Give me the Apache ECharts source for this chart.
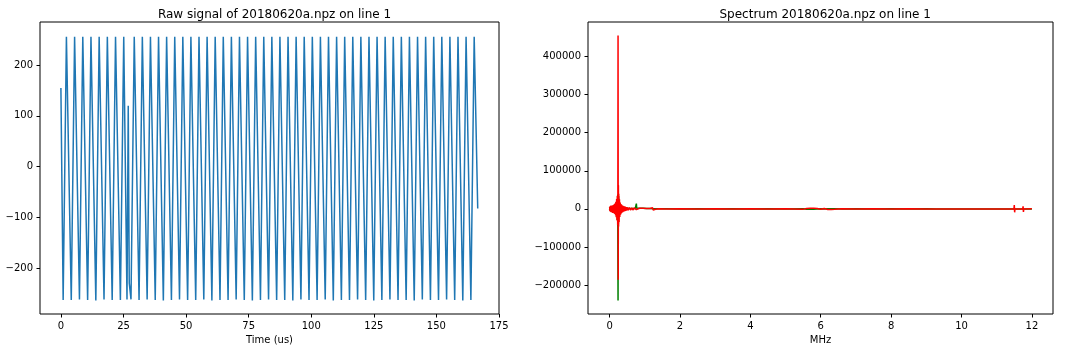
<!DOCTYPE html>
<html>
<head>
<meta charset="utf-8">
<script src="https://cdn.jsdelivr.net/npm/echarts@6/dist/echarts.min.js"></script>
<style>
html,body{margin:0;padding:0;background:#fff;}
#c{width:1072px;height:352px;}
</style>
</head>
<body>
<div id="c"></div>
<script>
// ---------------- data ----------------
const rawTime = [0, 0.9, 2.2, 2.8, 4.14, 5.47, 6.07, 7.41, 8.74, 9.34, 10.68, 12.01, 12.61, 13.95, 15.28, 15.88, 17.22,
  18.55, 19.15, 20.49, 21.82, 22.42, 23.76, 25.1, 25.7, 26.4, 26.9, 27.3, 28.0, 29.3, 29.9, 31.22, 32.53, 33.13, 34.45,
  35.77, 36.37, 37.68, 39.0, 39.6, 40.92, 42.23, 42.83, 44.15, 45.47, 46.07, 47.38, 48.7, 49.3, 50.62, 51.93, 52.53,
  53.85, 55.16, 55.76, 57.08, 58.4, 59.0, 60.31, 61.63, 62.23, 63.55, 64.86, 65.46, 66.78, 68.1, 68.7, 70.01, 71.33,
  71.93, 73.25, 74.56, 75.16, 76.48, 77.8, 78.4, 79.71, 81.03, 81.63, 82.95, 84.26, 84.86, 86.18, 87.49, 88.09, 89.41,
  90.73, 91.33, 92.64, 93.96, 94.56, 95.88, 97.19, 97.79, 99.11, 100.43, 101.03, 102.34, 103.66, 104.26, 105.58,
  106.89, 107.49, 108.81, 110.13, 110.73, 112.04, 113.36, 113.96, 115.28, 116.59, 117.19, 118.51, 119.82, 120.42,
  121.74, 123.06, 123.66, 124.97, 126.29, 126.89, 128.21, 129.52, 130.12, 131.44, 132.76, 133.36, 134.67, 135.99,
  136.59, 137.91, 139.22, 139.82, 141.14, 142.46, 143.06, 144.37, 145.69, 146.29, 147.61, 148.92, 149.52, 150.84,
  152.15, 152.75, 154.07, 155.39, 155.99, 157.30, 158.62, 159.22, 160.54, 161.85, 162.45, 163.77, 165.09, 165.69, 166.5];
const rawValue = [155, -263,
  256, 256, -263, 256, 256, -262, 256, 256, -263, 256, 256, -264, 256, 256, -262, 256, 256, -263, 256, 256, -263, 256, 256,
  -262, 120, -230, -262,
  256, 256, -263, 256, 256, -262, 256, 256, -263, 256, 256, -264, 256, 256, -263, 256, 256, -262, 256, 256, -263,
  256, 256, -263, 256, 256, -262, 256, 256, -264, 256, 256, -263, 256, 256, -263, 256, 256, -262, 256, 256, -263,
  256, 256, -264, 256, 256, -263, 256, 256, -262, 256, 256, -263, 256, 256, -263, 256, 256, -264, 256, 256, -262,
  256, 256, -263, 256, 256, -263, 256, 256, -262, 256, 256, -264, 256, 256, -263, 256, 256, -263, 256, 256, -262,
  256, 256, -263, 256, 256, -264, 256, 256, -263, 256, 256, -262, 256, 256, -263, 256, 256, -263, 256, 256, -264,
  256, 256, -262, 256, 256, -263, 256, 256, -263, 256, 256, -262, 256, 256, -263, 256, 256, -264, 256, 256, -263,
  256, 256, -83];

const specFreq = [0, 0.01, 0.02, 0.03, 0.04, 0.05, 0.06, 0.07, 0.08, 0.09, 0.10, 0.11, 0.12, 0.13, 0.14, 0.15, 0.16, 0.17,
  0.18, 0.19, 0.20, 0.21, 0.22, 0.23, 0.235, 0.24, 0.245, 0.25, 0.255,
  0.26, 0.27, 0.28, 0.29, 0.30, 0.31, 0.32, 0.33, 0.34, 0.35, 0.36, 0.37, 0.38, 0.39, 0.40, 0.41, 0.42, 0.43, 0.44, 0.45,
  0.46, 0.47, 0.48, 0.49, 0.50,
  0.53, 0.56, 0.60, 0.63, 0.66, 0.70, 0.73, 0.75, 0.76, 0.77, 0.80, 0.85, 0.90, 0.95, 1.00, 1.05, 1.10, 1.15, 1.20, 1.22,
  1.24, 1.26, 1.30, 1.40,
  1.6, 2.0, 2.5, 3.0, 3.5, 4.0, 4.5, 5.0, 5.5, 5.6, 5.65, 5.7, 5.75, 5.8, 5.85, 5.9, 6.0, 6.1, 6.2, 6.25, 6.3, 6.35, 6.4,
  6.6, 7.0, 7.5, 8.0, 8.5, 9.0,
  9.29, 9.3, 9.31, 9.32, 9.79, 9.8, 9.81, 9.82, 10.29, 10.3, 10.31, 10.32, 10.49, 10.5, 10.51, 10.52, 10.79, 10.8, 10.81,
  10.82, 10.99, 11.0, 11.01, 11.02, 11.19, 11.2, 11.21, 11.22, 11.49, 11.5, 11.51, 11.52, 11.74, 11.75, 11.76, 11.77, 12.0];
const specReal = [-3000, 4500, -5000, 6000, -6500, 6500, -6000, 7500, -7500, 8000, -7500, 9000, -9000, 9500, -10000, 11000,
  -12000, 13000, -15000, 18000, -21000, 26000, -30000, 38000, 40000, -240000, 35000, -38000, 34000,
  26000, 18000, 20000, 12000, 15000, 8000, 12000, 7000, 11000, 6000, 10000, 5000, 9000, 4500, 8000, 3500, 7000, 3000, 6000,
  2500, 5500, 2000, 5000, 1500, 4000,
  1500, 3500, 1200, 3000, 1000, 2500, 1000, 2000, 14000, 2000, 1000, 2000, 700, 1500, 500, 1000, 400, 900, 400, 600, 300, 500,
  300, 200,
  300, -300, 300, -300, 300, -300, 300, -300, 300, -600, 700, -800, 800, -700, 600, -500, 400, -500, 700, -800, 700, -600,
  500, -300, 300, -300, 300, -300, 300,
  0, -1000, 1000, 0, 0, -800, 800, 0, 0, -800, 800, 0, 0, -1000, 1000, 0, 0, -800, 800, 0, 0, -1500, 1500, 0, 0, -1200,
  1200, 0, 0, -3000, 3000, 0, 0, -2500, 2500, 0, -200];
const specImag = [4500, -6000, 7500, -7500, 9000, -9000, 7500, -9500, 9000, -10500, 9500, -10500, 11000, -12000, 12500, -13500,
  15000, -16500, 19000, -22000, 26000, -30000, 34000, -42000, 38000, 455000, -186000, 62000, -46000,
  40000, -34000, 25000, -21000, 17000, -15000, 13000, -12000, 10500, -10000, 9000, -9000, 8000, -7500, 7000, -6500, 6500,
  -6000, 6000, -5000, 5000, -4500, 4500, -4000, 3500,
  -3500, 3500, -3000, 3000, -2800, 2500, -2500, 2200, -2000, 2000, -2000, 1800, -1500, 1500, -1500, 1200, -1200, 1200,
  -1500, 3000, -3000, 1500, -800, 600,
  -500, 500, -400, 500, -400, 400, -500, 500, -600, 1200, -1500, 1800, -1600, 1500, -1300, 1000, -800, 1000, -1500, 1600,
  -1500, 1200, -1000, 600, -500, 400, -400, 400, -500,
  0, 2500, -2500, 0, 0, 2500, -2500, 0, 0, 2500, -2500, 0, 0, 3000, -3000, 0, 0, 2500, -2500, 0, 0, 4500, -4000, 0, 0,
  3500, -3500, 0, 0, 10000, -9000, 0, 0, 7000, -8000, 0, 300];

const rawXTicks = [0, 25, 50, 75, 100, 125, 150, 175];
const rawYTicks = [-200, -100, 0, 100, 200];
const specXTicks = [0, 2, 4, 6, 8, 10, 12];
const specYTicks = [-200000, -100000, 0, 100000, 200000, 300000, 400000];

// ---------------- chart ----------------
const FONT = 'DejaVu Sans';
const fmt = v => String(v).replace('-', '\u2212');
function zip(a, b) { return a.map((x, i) => [x, b[i]]); }

function mkAxis(idx, min, max, ticks, name) {
  const o = {
    type: 'value', gridIndex: idx, min: min, max: max,
    splitLine: {show: false},
    axisLine: {show: false, onZero: false},
    axisTick: {show: true, inside: false, length: 3.5, customValues: ticks, lineStyle: {color: '#000', width: 1}},
    axisLabel: {show: true, customValues: ticks, margin: 7, color: '#000', fontFamily: FONT, fontSize: 10, formatter: fmt},
  };
  if (name) {
    o.name = name; o.nameLocation = 'middle'; o.nameGap = 21;
    o.nameTextStyle = {color: '#000', fontFamily: FONT, fontSize: 10, verticalAlign: 'top'};
  }
  return o;
}

const chart = echarts.init(document.getElementById('c'), null, {renderer: 'canvas'});
chart.setOption({
  animation: false,
  backgroundColor: '#fff',
  title: [
    {text: 'Raw signal of 20180620a.npz on line 1', left: 269.5, top: 4, textAlign: 'center',
     textStyle: {fontFamily: FONT, fontSize: 12, fontWeight: 'normal', color: '#000'}},
    {text: 'Spectrum 20180620a.npz on line 1', left: 820.2, top: 4, textAlign: 'center',
     textStyle: {fontFamily: FONT, fontSize: 12, fontWeight: 'normal', color: '#000'}}
  ],
  grid: [
    {left: 40, top: 22, width: 459, height: 292, show: true, borderColor: '#000', borderWidth: 1, backgroundColor: 'transparent'},
    {left: 588, top: 22, width: 465, height: 292, show: true, borderColor: '#000', borderWidth: 1, backgroundColor: 'transparent'}
  ],
  xAxis: [
    mkAxis(0, -8.35, 175.0, rawXTicks, 'Time (us)'),
    mkAxis(1, -0.614, 12.6, specXTicks, 'MHz')
  ],
  yAxis: [
    mkAxis(0, -290.8, 284.9, rawYTicks, null),
    mkAxis(1, -275700, 490300, specYTicks, null)
  ],
  series: [
    {type: 'line', xAxisIndex: 0, yAxisIndex: 0, data: zip(rawTime, rawValue), showSymbol: false, sampling: null,
     lineStyle: {color: '#1f77b4', width: 1.5}, itemStyle: {color: '#1f77b4'}},
    {type: 'line', xAxisIndex: 1, yAxisIndex: 1, data: zip(specFreq, specReal), showSymbol: false,
     lineStyle: {color: '#008000', width: 1.5}, itemStyle: {color: '#008000'}},
    {type: 'line', xAxisIndex: 1, yAxisIndex: 1, data: zip(specFreq, specImag), showSymbol: false,
     lineStyle: {color: '#ff0000', width: 1.5}, itemStyle: {color: '#ff0000'}}
  ]
});
</script>
</body>
</html>
